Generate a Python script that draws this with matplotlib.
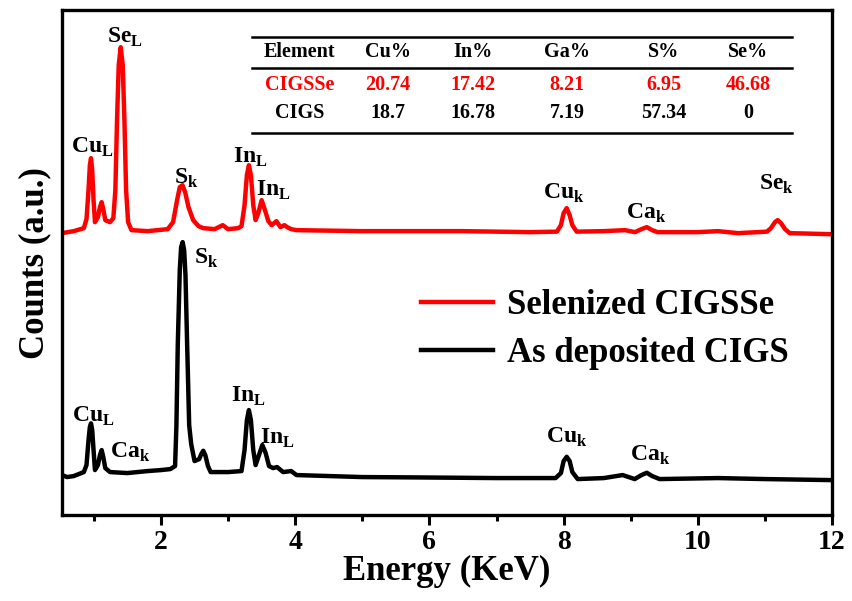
import matplotlib
matplotlib.use("Agg")
import matplotlib.pyplot as plt

plt.rcParams['font.family'] = ['Liberation Serif', 'DejaVu Serif']
plt.rcParams['font.weight'] = 'bold'
plt.rcParams['mathtext.fontset'] = 'custom'
plt.rcParams['mathtext.bf'] = 'Liberation Serif:bold'
plt.rcParams['mathtext.rm'] = 'Liberation Serif:bold'

# Selenized CIGSSe spectrum (energy keV, counts a.u.)
red_energy = [0.525, 0.70, 0.85, 0.89, 0.92, 0.94, 0.957, 0.975, 0.995, 1.016, 1.06, 1.09,
              1.116, 1.14, 1.17, 1.24, 1.29, 1.32, 1.345, 1.37, 1.40, 1.43, 1.455, 1.48,
              1.51, 1.56, 1.80, 2.10, 2.18, 2.24, 2.28, 2.32, 2.36, 2.41, 2.48, 2.56, 2.63,
              2.80, 2.92, 3.00, 3.15, 3.20, 3.245, 3.28, 3.31, 3.34, 3.375, 3.41, 3.45,
              3.50, 3.55, 3.60, 3.65, 3.72, 3.78, 3.84, 3.88, 3.94, 4.02, 5.0, 5.71, 6.5,
              7.5, 7.90, 7.96, 8.00, 8.046, 8.09, 8.13, 8.195, 8.6, 8.915, 9.064, 9.16, 9.24,
              9.32, 9.40, 10.0, 10.30, 10.6, 11.03, 11.09, 11.15, 11.19, 11.24, 11.30, 11.37,
              11.96]
red_counts = [2820, 2840, 2870, 2960, 3250, 3500, 3570, 3450, 3150, 2930, 2980, 3080,
              3130, 3060, 2950, 2930, 2970, 3250, 3950, 4500, 4680, 4500, 3950, 3250,
              2930, 2850, 2840, 2860, 2930, 3150, 3280, 3300, 3230, 3080, 2950, 2890, 2870,
              2860, 2900, 2860, 2870, 2890, 3100, 3400, 3500, 3400, 3100, 2950, 3020,
              3150, 3050, 2940, 2900, 2940, 2880, 2900, 2880, 2860, 2850, 2840, 2840, 2840,
              2830, 2835, 2900, 3020, 3070, 3000, 2900, 2835, 2840, 2850, 2830, 2860, 2880,
              2850, 2830, 2830, 2840, 2820, 2835, 2870, 2930, 2950, 2920, 2860, 2820,
              2810]

# As deposited CIGS spectrum
blk_energy = [0.525, 0.60, 0.70, 0.85, 0.89, 0.92, 0.94, 0.957, 0.975, 0.995, 1.016, 1.06,
              1.09, 1.116, 1.14, 1.17, 1.24, 1.50, 1.80, 2.00, 2.14, 2.21, 2.23, 2.25, 2.28,
              2.30, 2.323, 2.345, 2.365, 2.39, 2.42, 2.45, 2.50, 2.57, 2.60, 2.63, 2.66,
              2.70, 2.74, 3.00, 3.20, 3.245, 3.28, 3.31, 3.34, 3.375, 3.41, 3.46, 3.51,
              3.56, 3.61, 3.67, 3.73, 3.82, 3.94, 4.02, 5.0, 5.71, 7.0, 7.88, 7.96, 8.00,
              8.046, 8.09, 8.13, 8.21, 8.6, 8.88, 9.06, 9.16, 9.24, 9.32, 9.43, 10.3, 11.0,
              11.96]
blk_counts = [400, 380, 390, 430, 500, 750, 880, 917, 850, 650, 450, 500,
              600, 650, 580, 470, 430, 420, 440, 450, 460, 490, 900, 1700, 2450,
              2680, 2730, 2650, 2400, 1700, 900, 710, 540, 560, 610, 643, 600,
              490, 430, 430, 440, 650, 950, 1050, 950, 650, 500, 600, 700,
              620, 490, 470, 480, 430, 440, 400, 380, 377, 370, 370, 420, 540,
              583, 540, 430, 360, 370, 400, 360, 400, 423, 390, 360, 370, 360,
              350]

# Composition table
table_cols = ['Element', 'Cu%', 'In%', 'Ga%', 'S%', 'Se%']
row_cigsse = ['CIGSSe', '20.74', '17.42', '8.21', '6.95', '46.68']
row_cigs = ['CIGS', '18.7', '16.78', '7.19', '57.34', '0']

fig = plt.figure(figsize=(8.53, 6.01), dpi=100)
ax = fig.add_axes([0.0727, 0.143, 0.9027, 0.840])

ax.plot(red_energy, red_counts, color='#ff0000', lw=3.2, label='Selenized CIGSSe',
        solid_joinstyle='round')
ax.plot(blk_energy, blk_counts, color='black', lw=3.2, label='As deposited CIGS',
        solid_joinstyle='round')

ax.set_xlim(0.525, 12)
ax.set_ylim(0, 5050)
ax.set_xticks([2, 4, 6, 8, 10, 12])
ax.set_xticks([1, 3, 5, 7, 9, 11], minor=True)
ax.set_yticks([])
ax.tick_params(axis='x', which='major', direction='out', length=7, width=2.2, labelsize=20)
ax.tick_params(axis='x', which='minor', direction='out', length=4, width=2.2)
for lab in ax.get_xticklabels():
    lab.set_fontweight('bold')
for s in ax.spines.values():
    s.set_linewidth(2.4)

ax.set_xlabel('Energy (KeV)', fontsize=25, fontweight='bold', labelpad=0)
ax.set_ylabel('Counts (a.u.)', fontsize=25, fontweight='bold', labelpad=8)

leg = ax.legend(loc='upper left', bbox_to_anchor=(0.425, 0.51), frameon=False,
                prop={'size': 25, 'weight': 'bold'}, handlelength=2.1, handletextpad=0.4,
                labelspacing=0.45)

# peak labels
def lab(x, y, main, sub):
    ax.text(x, y, r'$\mathbf{%s}_\mathbf{%s}$' % (main, sub), fontsize=17,
            ha='center', va='center', color='black')

lab(1.46, 4780, 'Se', 'L')
lab(0.98, 3680, 'Cu', 'L')
lab(2.37, 3370, 'S', 'k')
lab(3.33, 3580, 'In', 'L')
lab(3.67, 3250, 'In', 'L')
lab(8.01, 3220, 'Cu', 'k')
lab(9.23, 3020, 'Ca', 'k')
lab(11.18, 3310, 'Se', 'k')

lab(2.68, 2570, 'S', 'k')
lab(3.31, 1190, 'In', 'L')
lab(3.74, 770, 'In', 'L')
lab(0.99, 990, 'Cu', 'L')
lab(1.54, 630, 'Ca', 'k')
lab(8.05, 780, 'Cu', 'k')
lab(9.29, 600, 'Ca', 'k')

# composition table
col_x = [300, 388, 473, 567, 664, 748]
def px2x(px):
    return 2 + (px - 161) / 67.1
def py2y(py):
    return (515 - py) * 10

for cx, t in zip(col_x, table_cols):
    ax.text(px2x(cx), py2y(52), t, fontsize=14.5, fontweight='bold', ha='center', va='center')
for cx, t in zip(col_x, row_cigsse):
    ax.text(px2x(cx), py2y(85), t, fontsize=14.5, fontweight='bold', ha='center', va='center', color='#ff0000')
for cx, t in zip(col_x, row_cigs):
    ax.text(px2x(cx), py2y(113), t, fontsize=14.5, fontweight='bold', ha='center', va='center')
for py in (37, 68, 133):
    ax.plot([px2x(252), px2x(792)], [py2y(py), py2y(py)], color='black', lw=1.8)

fig.savefig('out.png', dpi=100)
